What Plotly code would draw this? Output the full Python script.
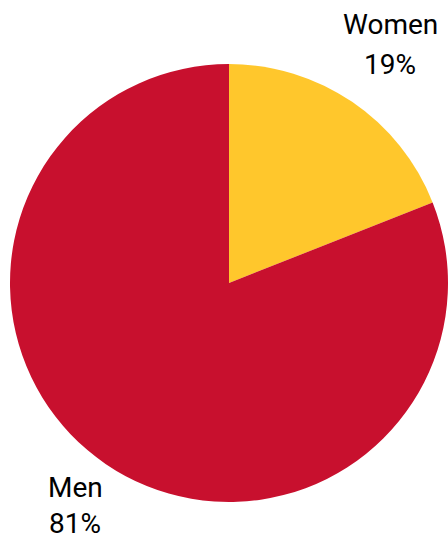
import plotly.graph_objects as go

labels = ["Women", "Men"]
values = [19, 81]
colors = ["#FFC72C", "#C8102E"]

W, H = 448, 541
fig = go.Figure(go.Pie(
    labels=labels, values=values, sort=False, direction="clockwise", rotation=0,
    marker=dict(colors=colors, line=dict(width=0)),
    textinfo="none", hoverinfo="label+percent", showlegend=False,
    domain=dict(x=[10 / W, 448 / W], y=[(H - 502) / H, (H - 64) / H]),
))

font = dict(family="Roboto, Arial, sans-serif", size=28, color="#000000")
total = sum(values)
pos = {"Women": (390, 24, 65), "Men": (75, 487, 523)}
for lab, val in zip(labels, values):
    x, y1, y2 = pos[lab]
    fig.add_annotation(x=x / W, y=1 - y1 / H, xref="paper", yref="paper", text=lab,
                       showarrow=False, font=font, xanchor="center", yanchor="middle",
                       borderpad=0)
    fig.add_annotation(x=x / W, y=1 - y2 / H, xref="paper", yref="paper",
                       text=f"{round(val / total * 100)}%",
                       showarrow=False, font=font, xanchor="center", yanchor="middle",
                       borderpad=0)

fig.update_layout(width=W, height=H, margin=dict(l=0, r=0, t=0, b=0),
                  paper_bgcolor="white", plot_bgcolor="white")
fig.write_html("out.html", config={"displayModeBar": False},
               post_script="document.body.style.margin='0';document.body.style.overflow='hidden';")
